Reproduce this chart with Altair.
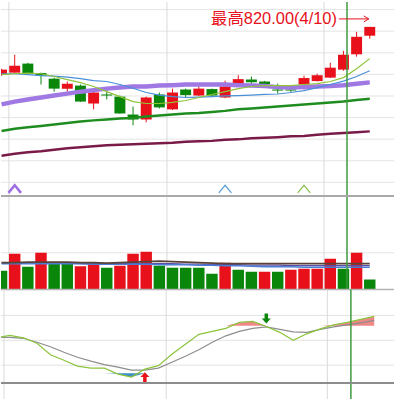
import altair as alt
import pandas as pd

# ---------------- data ----------------
idx = list(range(29))
opens = [797.9, 798.8, 803.0, 798.6, 796.0, 791.4, 792.8, 784.5, 788.7, 787.7,
         779.4, 777.1, 788.7, 781.8, 791.0, 788.2, 791.2, 787.3, 793.3, 795.6,
         794.7, 791.0, 791.0, 793.3, 794.9, 796.5, 800.2, 807.3, 815.9]
closes = [800.2, 802.0, 798.3, 797.4, 791.4, 793.7, 785.4, 789.6, 788.2, 779.9,
          777.1, 787.3, 782.7, 789.6, 788.4, 791.4, 788.2, 792.4, 795.8, 794.4,
          793.5, 790.5, 790.5, 796.3, 797.6, 801.1, 807.1, 815.4, 820.0]
highs = [800.6, 807.1, 803.4, 798.8, 796.5, 794.7, 793.3, 790.0, 790.5, 788.2,
         783.1, 787.7, 789.6, 791.4, 791.4, 792.4, 791.4, 795.1, 797.6, 797.0,
         794.9, 793.7, 792.4, 797.4, 798.3, 803.4, 808.9, 817.7, 820.0]
lows = [797.4, 798.8, 798.1, 793.3, 790.0, 790.0, 785.2, 781.8, 786.4, 779.7,
        774.4, 775.8, 782.2, 781.5, 787.3, 788.0, 787.7, 787.0, 793.0, 793.7,
        793.3, 789.1, 789.6, 791.0, 794.7, 796.3, 799.7, 806.2, 814.5]

ma5 = [797.9, 798.3, 798.6, 798.3, 797.0, 795.6, 794.2, 792.4, 790.0, 787.7,
       785.4, 784.5, 784.5, 785.0, 785.9, 787.3, 788.7, 790.0, 791.4, 792.4,
       792.8, 792.8, 792.8, 793.3, 793.7, 794.7, 796.5, 800.6, 805.3]
ma10 = [798.3, 798.3, 797.9, 797.4, 797.2, 796.7, 796.0, 795.1, 794.7, 793.3,
        791.6, 789.6, 788.4, 787.7, 787.3, 787.5, 787.7, 788.0, 788.2, 788.4,
        788.7, 788.9, 789.6, 790.5, 791.9, 793.3, 794.9, 797.0, 799.7]
ma20 = [784.1, 785.4, 786.4, 787.3, 788.2, 789.1, 790.0, 790.7, 791.4, 791.9,
        792.4, 792.4, 792.8, 793.0, 793.3, 793.3, 793.3, 793.3, 793.0, 792.8,
        792.6, 792.1, 791.9, 792.1, 792.4, 792.6, 793.0, 793.7, 794.3]
ma60 = [771.8, 772.8, 773.5, 774.1, 774.8, 775.5, 776.2, 776.7, 777.1, 777.6,
        777.8, 778.5, 779.0, 779.4, 779.9, 780.1, 780.6, 781.1, 781.8, 782.2,
        782.7, 783.1, 783.6, 784.1, 784.5, 785.0, 785.4, 786.1, 786.7]
ma120 = [760.3, 761.2, 761.9, 762.4, 763.1, 763.8, 764.2, 764.7, 765.2, 765.4,
         765.6, 765.9, 766.1, 766.3, 766.8, 767.0, 767.2, 767.7, 767.9, 768.4,
         768.6, 768.9, 769.3, 769.5, 770.0, 770.5, 770.9, 771.2, 771.6]

volume = [1900, 3600, 2300, 3700, 2600, 2600, 2350, 2550, 2200, 2400,
          3600, 3800, 2400, 2200, 2200, 2200, 1600, 2700, 2000, 1800,
          1800, 1800, 2000, 2100, 2100, 3100, 2100, 3700, 1000]
vol_dir = ["G", "R", "G", "R", "G", "G", "R", "R", "G", "R",
           "R", "R", "G", "G", "G", "G", "G", "R", "G", "G",
           "R", "G", "R", "R", "R", "R", "G", "R", "G"]
vol_ma_a = [2700, 2700, 2750, 2750, 2750, 2750, 2700, 2700, 2650, 2700,
            2750, 2800, 2850, 2800, 2750, 2700, 2650, 2600, 2600, 2600,
            2600, 2600, 2600, 2600, 2600, 2600, 2600, 2600, 2600]
vol_ma_b = [2600, 2600, 2600, 2600, 2600, 2600, 2600, 2550, 2550, 2550,
            2550, 2550, 2500, 2500, 2500, 2450, 2450, 2400, 2400, 2350,
            2300, 2300, 2300, 2250, 2250, 2250, 2250, 2250, 2250]
vol_ma_c = [2700, 2700, 2700, 2650, 2650, 2650, 2600, 2600, 2600, 2600,
            2600, 2600, 2600, 2600, 2550, 2550, 2500, 2500, 2500, 2450,
            2450, 2450, 2400, 2400, 2400, 2400, 2400, 2400, 2400]

k_fast = [53, 56, 53, 46.4, 32.6, 26, 18.8, 16.4, 16.4, 9.2,
          5.6, 15.2, 19.4, 33.2, 45.2, 57.2, 60.8, 64.4, 71.6, 72.8,
          66.6, 59.6, 50, 57.8, 63.8, 68.6, 71.6, 75.2, 78.8]
d_slow = [53.6, 53.6, 52.4, 47.6, 42.2, 35.6, 29.6, 24.8, 20.6, 17.6,
          14, 14, 16.4, 23.6, 30.8, 38.6, 47.6, 55.4, 60.8, 64.4,
          66.2, 63.2, 60.2, 59.6, 63.2, 66.2, 68.6, 71, 74]
kd_fill_hi = 67.4
kd_fill_lo = 10.4

signal_i = [1, 17, 23]
signal_price = [744.9, 744.9, 744.9]
signal_color = ["#9c70e2", "#5b9bd5", "#8dc050"]
signal_width = [2.6, 1.2, 1.2]

cross_i = [11, 20]
cross_val = [5.6, 76.4]
cross_kind = ["up", "down"]

ann_i = [28]
ann_price = [820.0]
ann_label = ["最高820.00(4/10)"]

price_grid = [828, 818, 808, 798, 788, 778, 768, 758, 748]
vol_grid = [3700]
vol_top_line = [9400]
vol_base_line = [0]
kd_grid = [80, 50, 20]
kd_floor = [-1.6]
month_lines = [0.558, 12.578, 24.525]
cursor_line = [26.27]

X_DOMAIN = [0.336, 29.466]
PRICE_DOMAIN = [741.66, 831.52]
VOL_DOMAIN = [0, 9400]
KD_DOMAIN = [-20.8, 111.2]

RED = "#e8101a"
GREEN = "#0a870a"

# ---------------- frames ----------------
df = pd.DataFrame({
    "i": idx, "open": opens, "close": closes, "high": highs, "low": lows,
    "ma5": ma5, "ma10": ma10, "ma20": ma20, "ma60": ma60, "ma120": ma120,
    "vol": volume, "vdir": vol_dir, "va": vol_ma_a, "vb": vol_ma_b, "vc": vol_ma_c,
    "k": k_fast, "d": d_slow,
})
df["dir"] = ["up" if c >= o else "down" for o, c in zip(opens, closes)]
df["red_top"] = [max(v, kd_fill_hi) for v in k_fast]
df["red_base"] = kd_fill_hi
df["blue_bot"] = [min(v, kd_fill_lo) for v in k_fast]
df["blue_base"] = kd_fill_lo

xs = alt.Scale(domain=X_DOMAIN, nice=False, zero=False)
ps = alt.Scale(domain=PRICE_DOMAIN, nice=False, zero=False)
vs = alt.Scale(domain=VOL_DOMAIN, nice=False, zero=False)
ks = alt.Scale(domain=KD_DOMAIN, nice=False, zero=False)


def X(f="i"):
    return alt.X(f"{f}:Q", scale=xs, axis=None)


def vrules():
    a = alt.Chart(pd.DataFrame({"i": month_lines})).mark_rule(
        color="#dadada", strokeWidth=1).encode(x=X())
    return a


def cursor():
    return alt.Chart(pd.DataFrame({"i": cursor_line})).mark_rule(
        color="#3f9a3f", strokeWidth=1.5).encode(x=X())


cdir = alt.Color("dir:N", scale=alt.Scale(domain=["up", "down"], range=[RED, GREEN]), legend=None)

# ---------------- price panel ----------------
grid_p = alt.Chart(pd.DataFrame({"v": price_grid})).mark_rule(
    color="#e4e4e4", strokeWidth=1).encode(y=alt.Y("v:Q", scale=ps, axis=None))
wick = alt.Chart(df).mark_rule(strokeWidth=1, clip=True).encode(
    x=X(), y=alt.Y("low:Q", scale=ps, axis=None), y2="high:Q", color=cdir)
body = alt.Chart(df).mark_bar(size=11, clip=True).encode(
    x=X(), y=alt.Y("open:Q", scale=ps, axis=None), y2="close:Q", color=cdir)


def ma_line(field, color, w):
    return alt.Chart(df).mark_line(color=color, strokeWidth=w, clip=True).encode(
        x=X(), y=alt.Y(f"{field}:Q", scale=ps, axis=None))


sig_df = pd.DataFrame({"i": signal_i, "p": signal_price, "c": signal_color, "w": signal_width})
sig = alt.Chart(sig_df).mark_point(
    shape="M-1,0.6L0,-0.6L1,0.6", filled=False, size=160, opacity=1).encode(
    x=X(), y=alt.Y("p:Q", scale=ps, axis=None),
    color=alt.Color("c:N", scale=None, legend=None),
    strokeWidth=alt.StrokeWidth("w:Q", scale=None, legend=None))

ann_df = pd.DataFrame({"i": ann_i, "p": ann_price, "label": ann_label})
ann_text = alt.Chart(ann_df).mark_text(
    align="right", baseline="middle", dx=-33, dy=-8, fontSize=16.5,
    font="Liberation Sans, Noto Sans CJK TC, sans-serif", color=RED).encode(
    x=X(), y=alt.Y("p:Q", scale=ps, axis=None), text="label:N")
ann_rule = alt.Chart(ann_df).mark_rule(
    color=RED, strokeWidth=1, xOffset=-31, x2Offset=-1, yOffset=-8).encode(
    x=X(), x2=alt.X2("i"), y=alt.Y("p:Q", scale=ps, axis=None))
ann_head = alt.Chart(ann_df).mark_point(
    shape="M-1,-0.6L0,0L-1,0.6", filled=False, size=100, strokeWidth=1,
    color=RED, opacity=1, xOffset=-1, yOffset=-8).encode(
    x=X(), y=alt.Y("p:Q", scale=ps, axis=None))

p1 = alt.layer(
    grid_p, vrules(), wick, body,
    ma_line("ma120", "#7a1a48", 2.5),
    ma_line("ma60", "#1e8c1e", 2.5),
    ma_line("ma20", "#a078e4", 4.5),
    ma_line("ma10", "#4a90d9", 1.2),
    ma_line("ma5", "#8fc43a", 1.2),
    sig, cursor(), ann_rule, ann_head, ann_text,
).properties(width=395, height=195)

# ---------------- volume panel ----------------
grid_v = alt.Chart(pd.DataFrame({"v": vol_grid})).mark_rule(
    color="#e4e4e4", strokeWidth=1).encode(y=alt.Y("v:Q", scale=vs, axis=None))
top_v = alt.Chart(pd.DataFrame({"v": vol_top_line})).mark_rule(
    color="#a9a9a9", strokeWidth=2).encode(y=alt.Y("v:Q", scale=vs, axis=None))
base_v = alt.Chart(pd.DataFrame({"v": vol_base_line})).mark_rule(
    color="#b4b4b4", strokeWidth=1.5).encode(y=alt.Y("v:Q", scale=vs, axis=None))
vbars = alt.Chart(df).mark_bar(size=11.5, clip=True).encode(
    x=X(), y=alt.Y("vol:Q", scale=vs, axis=None),
    color=alt.Color("vdir:N", scale=alt.Scale(domain=["R", "G"], range=[RED, GREEN]), legend=None))


def vline(field, color, w):
    return alt.Chart(df).mark_line(color=color, strokeWidth=w, clip=True).encode(
        x=X(), y=alt.Y(f"{field}:Q", scale=vs, axis=None))


p2 = alt.layer(
    grid_v, vrules(), vbars,
    vline("vc", "#5a4fa8", 1.2),
    vline("vb", "#4c7cd4", 1.5),
    vline("va", "#5b4236", 1.8),
    cursor(), top_v, base_v,
).properties(width=395, height=94)

# ---------------- KD panel ----------------
grid_k = alt.Chart(pd.DataFrame({"v": kd_grid})).mark_rule(
    color="#e2e2e2", strokeWidth=1).encode(y=alt.Y("v:Q", scale=ks, axis=None))
floor_k = alt.Chart(pd.DataFrame({"v": kd_floor})).mark_rule(
    color="#8c8c8c", strokeWidth=2).encode(y=alt.Y("v:Q", scale=ks, axis=None))
red_area = alt.Chart(df).mark_area(color="#f08888", clip=True).encode(
    x=X(), y=alt.Y("red_top:Q", scale=ks, axis=None), y2="red_base:Q")
blue_area = alt.Chart(df).mark_area(color="#3c8fc6", clip=True).encode(
    x=X(), y=alt.Y("blue_bot:Q", scale=ks, axis=None), y2="blue_base:Q")
slow_line = alt.Chart(df).mark_line(color="#8e8e8e", strokeWidth=1.2, clip=True).encode(
    x=X(), y=alt.Y("d:Q", scale=ks, axis=None))
fast_line = alt.Chart(df).mark_line(color="#8cc43c", strokeWidth=1.2, clip=True).encode(
    x=X(), y=alt.Y("k:Q", scale=ks, axis=None))

cross_df = pd.DataFrame({"i": cross_i, "v": cross_val, "kind": cross_kind})
up_arrow = alt.Chart(cross_df).transform_filter(alt.datum.kind == "up").mark_point(
    shape="M0,-1L0.9,0L0.35,0L0.35,1L-0.35,1L-0.35,0L-0.9,0Z", filled=True,
    size=100, color=RED, opacity=1).encode(x=X(), y=alt.Y("v:Q", scale=ks, axis=None))
down_arrow = alt.Chart(cross_df).transform_filter(alt.datum.kind == "down").mark_point(
    shape="M0,1L0.9,0L0.35,0L0.35,-1L-0.35,-1L-0.35,0L-0.9,0Z", filled=True,
    size=100, color=GREEN, opacity=1).encode(x=X(), y=alt.Y("v:Q", scale=ks, axis=None))

p3 = alt.layer(
    grid_k, vrules(), red_area, blue_area, slow_line, fast_line,
    up_arrow, down_arrow, cursor(), floor_k,
).properties(width=395, height=110)

chart = alt.vconcat(p1, p2, p3, spacing=0, bounds="flush").properties(
    padding=0, background="white").configure_view(stroke=None)

chart.save("out.html", embed_options={"renderer": "svg", "actions": False})
